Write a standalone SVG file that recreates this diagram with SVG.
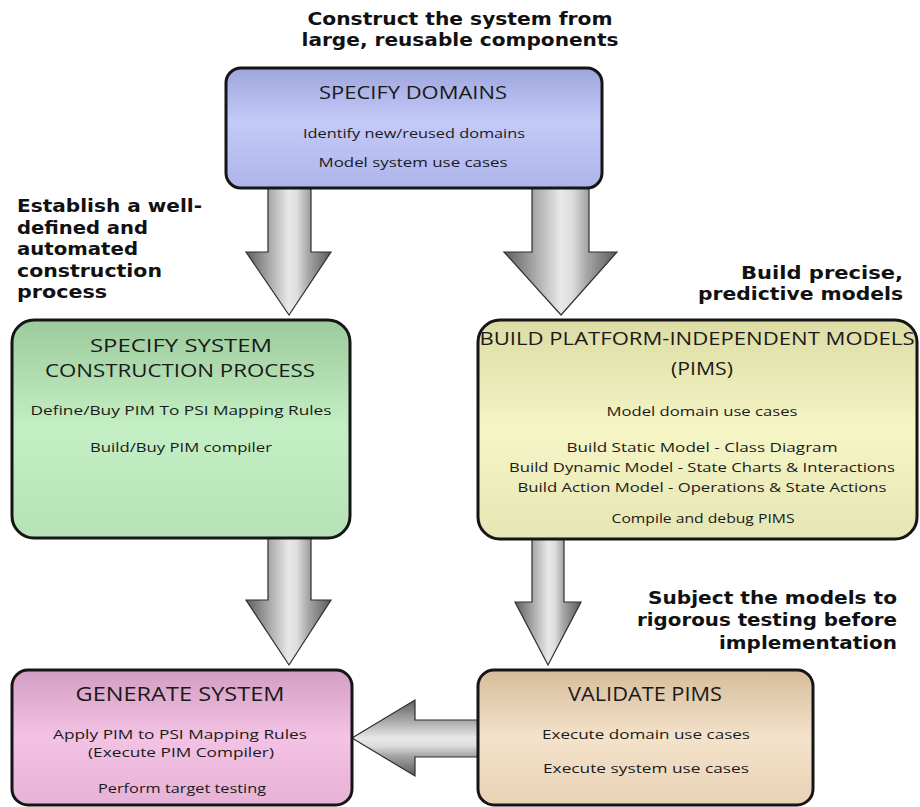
<svg xmlns="http://www.w3.org/2000/svg" width="920" height="807" viewBox="0 0 920 807">
  <style>
    .box { stroke: #151515; stroke-width: 3; }
    .arrow { stroke: #2e2e2e; stroke-width: 1.2; }
    .note { font-family: "DejaVu Sans", "Liberation Sans", sans-serif; font-weight: bold; font-size: 18px; fill: #111; }
    .head { font-family: "Open Sans", "DejaVu Sans", sans-serif; fill: #1a1a1a; text-anchor: middle; }
    .body { font-family: "Open Sans", "DejaVu Sans", sans-serif; fill: #1a1a1a; text-anchor: middle; font-size: 13px; }
  </style>
  <defs>
    <linearGradient id="gDown" x1="0" y1="0" x2="1" y2="0">
      <stop offset="0" stop-color="#5e5e5e"/>
      <stop offset="0.27" stop-color="#a8a8a8"/>
      <stop offset="0.5" stop-color="#e8e8e8"/>
      <stop offset="0.6" stop-color="#dedede"/>
      <stop offset="0.74" stop-color="#a4a4a4"/>
      <stop offset="1" stop-color="#5a5a5a"/>
    </linearGradient>
    <linearGradient id="gLeft" x1="0" y1="0" x2="0" y2="1">
      <stop offset="0" stop-color="#5e5e5e"/>
      <stop offset="0.27" stop-color="#a8a8a8"/>
      <stop offset="0.5" stop-color="#e8e8e8"/>
      <stop offset="0.6" stop-color="#dedede"/>
      <stop offset="0.74" stop-color="#a4a4a4"/>
      <stop offset="1" stop-color="#5a5a5a"/>
    </linearGradient>
    <linearGradient id="gBlue" x1="0" y1="0" x2="0" y2="1">
      <stop offset="0" stop-color="#9ea5dc"/>
      <stop offset="0.45" stop-color="#c3caf8"/>
      <stop offset="1" stop-color="#aeb4ea"/>
    </linearGradient>
    <linearGradient id="gGreen" x1="0" y1="0" x2="0" y2="1">
      <stop offset="0" stop-color="#9ccb9c"/>
      <stop offset="0.5" stop-color="#c4efc4"/>
      <stop offset="1" stop-color="#b6e2b6"/>
    </linearGradient>
    <linearGradient id="gYellow" x1="0" y1="0" x2="0" y2="1">
      <stop offset="0" stop-color="#dcdca4"/>
      <stop offset="0.5" stop-color="#f5f5c6"/>
      <stop offset="1" stop-color="#e6e6b4"/>
    </linearGradient>
    <linearGradient id="gPink" x1="0" y1="0" x2="0" y2="1">
      <stop offset="0" stop-color="#d29ec4"/>
      <stop offset="0.5" stop-color="#f4c2e4"/>
      <stop offset="1" stop-color="#e6b2d6"/>
    </linearGradient>
    <linearGradient id="gTan" x1="0" y1="0" x2="0" y2="1">
      <stop offset="0" stop-color="#d6bc9c"/>
      <stop offset="0.5" stop-color="#f4e2ca"/>
      <stop offset="1" stop-color="#e8d2b6"/>
    </linearGradient>
  </defs>

  <rect width="920" height="807" fill="#ffffff"/>

  <!-- free-standing captions -->
  <g id="captions" class="note">
    <text x="460" y="25" text-anchor="middle" textLength="305" lengthAdjust="spacingAndGlyphs">Construct the system from</text>
    <text x="460" y="46" text-anchor="middle" textLength="317" lengthAdjust="spacingAndGlyphs">large, reusable components</text>

    <text x="17" y="212" textLength="185" lengthAdjust="spacingAndGlyphs">Establish a well-</text>
    <text x="17" y="234" textLength="131" lengthAdjust="spacingAndGlyphs">defined and</text>
    <text x="17" y="255" textLength="121" lengthAdjust="spacingAndGlyphs">automated</text>
    <text x="17" y="277" textLength="145" lengthAdjust="spacingAndGlyphs">construction</text>
    <text x="17" y="298" textLength="90" lengthAdjust="spacingAndGlyphs">process</text>

    <text x="903" y="279" text-anchor="end" textLength="162" lengthAdjust="spacingAndGlyphs">Build precise,</text>
    <text x="903" y="300" text-anchor="end" textLength="205" lengthAdjust="spacingAndGlyphs">predictive models</text>

    <text x="897" y="604" text-anchor="end" textLength="249" lengthAdjust="spacingAndGlyphs">Subject the models to</text>
    <text x="897" y="626" text-anchor="end" textLength="260" lengthAdjust="spacingAndGlyphs">rigorous testing before</text>
    <text x="897" y="649" text-anchor="end" textLength="178" lengthAdjust="spacingAndGlyphs">implementation</text>
  </g>

  <!-- block arrows between the steps -->
  <g id="connectors">
    <path class="arrow" fill="url(#gDown)" d="M268,186 H311 V252 H331 L289,315 L246,252 H268 Z"/>
    <path class="arrow" fill="url(#gDown)" d="M532,186 H589 V252 H617 L561,315 L504,252 H532 Z"/>
    <path class="arrow" fill="url(#gDown)" d="M268,536 H311 V600 H331 L289,665 L246,600 H268 Z"/>
    <path class="arrow" fill="url(#gDown)" d="M532,537 H564 V602 H581 L548,665 L515,602 H532 Z"/>
    <path class="arrow" fill="url(#gLeft)" d="M480,720 H415 V700 L352,738 L415,776 V757 H480 Z"/>
  </g>

  <g id="specify-domains">
    <rect class="box" x="226" y="68" width="376" height="120" rx="15" fill="url(#gBlue)"/>
    <text class="head" x="413" y="99" font-size="18" textLength="188" lengthAdjust="spacingAndGlyphs">SPECIFY DOMAINS</text>
    <text class="body" x="414" y="138" textLength="222" lengthAdjust="spacingAndGlyphs">Identify new/reused domains</text>
    <text class="body" x="413" y="167" textLength="189" lengthAdjust="spacingAndGlyphs">Model system use cases</text>
  </g>

  <g id="specify-construction">
    <rect class="box" x="12" y="320" width="338" height="218" rx="22" fill="url(#gGreen)"/>
    <text class="head" x="181" y="352" font-size="18" textLength="182" lengthAdjust="spacingAndGlyphs">SPECIFY SYSTEM</text>
    <text class="head" x="180" y="377" font-size="18" textLength="270" lengthAdjust="spacingAndGlyphs">CONSTRUCTION PROCESS</text>
    <text class="body" x="181" y="415" font-size="15" textLength="301" lengthAdjust="spacingAndGlyphs">Define/Buy PIM To PSI Mapping Rules</text>
    <text class="body" x="181" y="452" font-size="15" textLength="182" lengthAdjust="spacingAndGlyphs">Build/Buy PIM compiler</text>
  </g>

  <g id="build-pims">
    <rect class="box" x="478" y="320" width="439" height="219" rx="22" fill="url(#gYellow)"/>
    <text class="head" x="697" y="345" font-size="18" textLength="435" lengthAdjust="spacingAndGlyphs">BUILD PLATFORM-INDEPENDENT MODELS</text>
    <text class="head" x="702" y="375" font-size="18" textLength="62" lengthAdjust="spacingAndGlyphs">(PIMS)</text>
    <text class="body" x="702" y="416" textLength="191" lengthAdjust="spacingAndGlyphs">Model domain use cases</text>
    <text class="body" x="702" y="452" textLength="271" lengthAdjust="spacingAndGlyphs">Build Static Model - Class Diagram</text>
    <text class="body" x="702" y="472" textLength="386" lengthAdjust="spacingAndGlyphs">Build Dynamic Model - State Charts &amp; Interactions</text>
    <text class="body" x="702" y="492" textLength="369" lengthAdjust="spacingAndGlyphs">Build Action Model - Operations &amp; State Actions</text>
    <text class="body" x="703" y="523" textLength="183" lengthAdjust="spacingAndGlyphs">Compile and debug PIMS</text>
  </g>

  <g id="generate-system">
    <rect class="box" x="12" y="670" width="340" height="135" rx="16" fill="url(#gPink)"/>
    <text class="head" x="180" y="701" font-size="20" textLength="209" lengthAdjust="spacingAndGlyphs">GENERATE SYSTEM</text>
    <text class="body" x="180" y="739" font-size="13.5" textLength="254" lengthAdjust="spacingAndGlyphs">Apply PIM to PSI Mapping Rules</text>
    <text class="body" x="181" y="757" font-size="13.5" textLength="186" lengthAdjust="spacingAndGlyphs">(Execute PIM Compiler)</text>
    <text class="body" x="182" y="793" font-size="14" textLength="168" lengthAdjust="spacingAndGlyphs">Perform target testing</text>
  </g>

  <g id="validate-pims">
    <rect class="box" x="478" y="670" width="335" height="135" rx="16" fill="url(#gTan)"/>
    <text class="head" x="645" y="701" font-size="20" textLength="154" lengthAdjust="spacingAndGlyphs">VALIDATE PIMS</text>
    <text class="body" x="646" y="739" font-size="14" textLength="208" lengthAdjust="spacingAndGlyphs">Execute domain use cases</text>
    <text class="body" x="646" y="773" font-size="14" textLength="206" lengthAdjust="spacingAndGlyphs">Execute system use cases</text>
  </g>
</svg>
